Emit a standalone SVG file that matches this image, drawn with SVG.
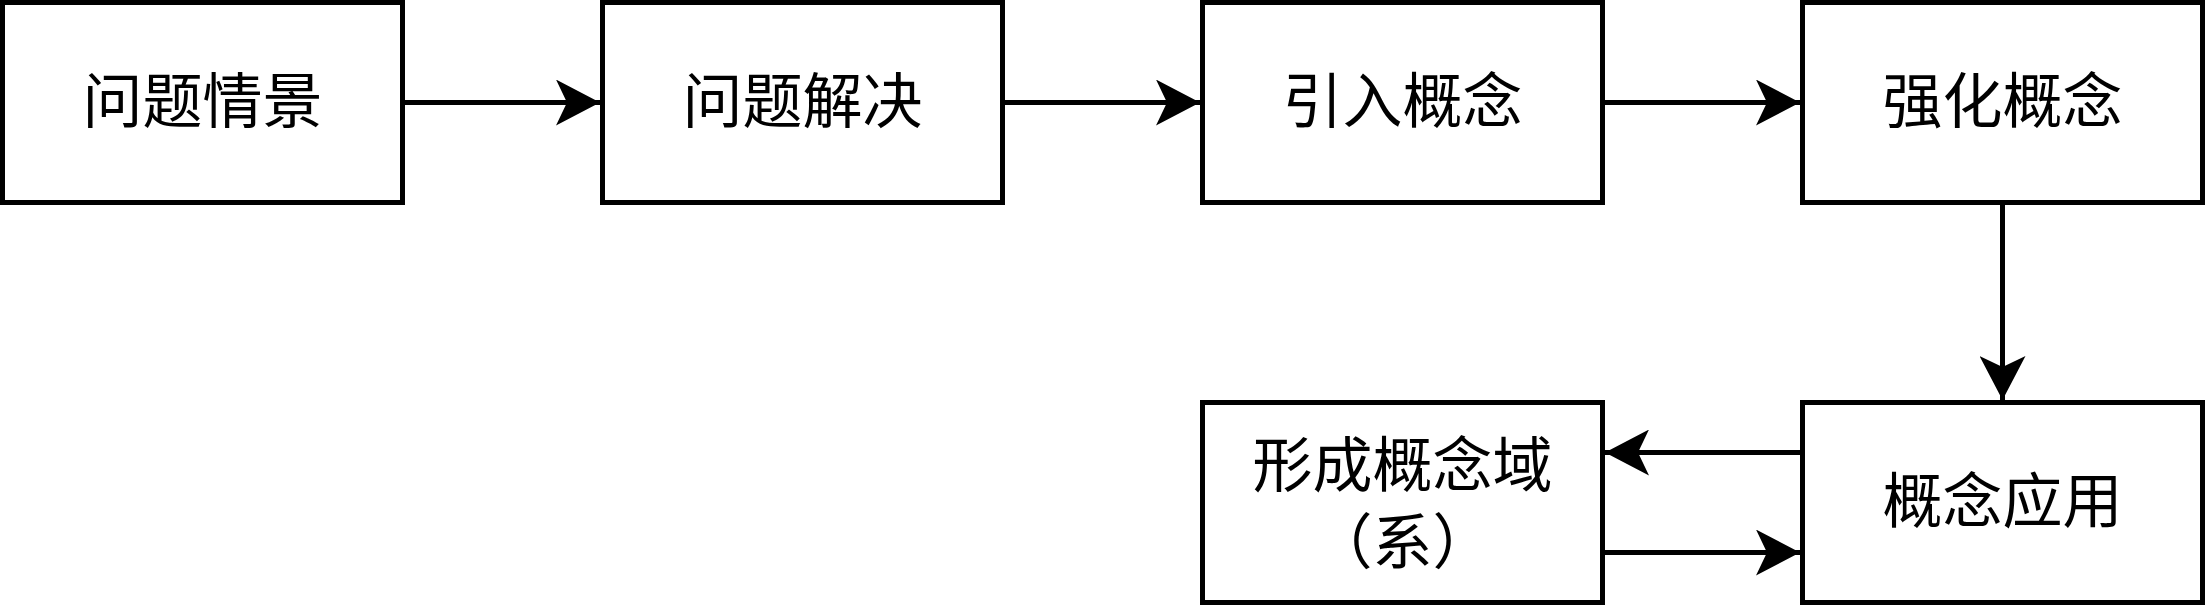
<svg xmlns="http://www.w3.org/2000/svg" width="2205" height="605" viewBox="0 0 2205 605">
<style>
.box{fill:#fff;stroke:#000;stroke-width:5}
.lbl{font-family:"Noto Sans CJK SC","Noto Sans",sans-serif;font-size:60px;fill:#000;text-anchor:middle;dominant-baseline:central}
.edge{fill:none;stroke:#000;stroke-width:5}
</style>
<defs>
<marker id="arr" markerUnits="userSpaceOnUse" markerWidth="46" markerHeight="46" refX="44" refY="23" orient="auto" viewBox="0 0 46 46">
<path d="M0,0 L44,23 L0,46 L11,23 Z" fill="#000"/>
</marker>
</defs>
<rect width="2205" height="605" fill="#fff"/>
<g id="connectors">
<path class="edge" d="M402.5,102.5 H600" marker-end="url(#arr)"/>
<path class="edge" d="M1002.5,102.5 H1200" marker-end="url(#arr)"/>
<path class="edge" d="M1602.5,102.5 H1800" marker-end="url(#arr)"/>
<path class="edge" d="M2002.5,202.5 V400" marker-end="url(#arr)"/>
<path class="edge" d="M1802.5,452.5 H1605" marker-end="url(#arr)"/>
<path class="edge" d="M1602.5,552.5 H1800" marker-end="url(#arr)"/>
</g>
<g id="n1"><rect class="box" x="2.5" y="2.5" width="400" height="200"/><text class="lbl" x="202.5" y="96">问题情景</text></g>
<g id="n2"><rect class="box" x="602.5" y="2.5" width="400" height="200"/><text class="lbl" x="802.5" y="96">问题解决</text></g>
<g id="n3"><rect class="box" x="1202.5" y="2.5" width="400" height="200"/><text class="lbl" x="1402.5" y="96">引入概念</text></g>
<g id="n4"><rect class="box" x="1802.5" y="2.5" width="400" height="200"/><text class="lbl" x="2002.5" y="96">强化概念</text></g>
<g id="n5"><rect class="box" x="1202.5" y="402.5" width="400" height="200"/><text class="lbl" x="1402.5" y="460">形成概念域</text><text class="lbl" x="1402.5" y="537">（系）</text></g>
<g id="n6"><rect class="box" x="1802.5" y="402.5" width="400" height="200"/><text class="lbl" x="2002.5" y="496">概念应用</text></g>
</svg>
